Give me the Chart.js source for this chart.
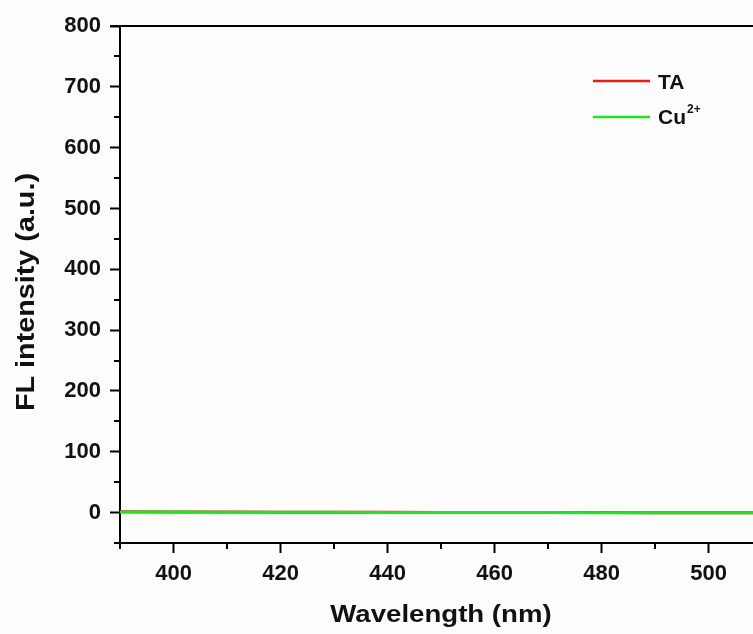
<!DOCTYPE html>
<html>
<head>
<meta charset="utf-8">
<script src="https://cdn.jsdelivr.net/npm/chart.js@4/dist/chart.umd.min.js"></script>
<style>
html,body{margin:0;padding:0;background:#fdfdfd;overflow:hidden;}
#wrap{width:753px;height:634px;position:relative;}
</style>
</head>
<body>
<div id="wrap"><canvas id="c" width="753" height="634"></canvas></div>
<script>
// ---- data ----
const wavelengths = [390, 400, 410, 420, 430, 440, 450, 460, 470, 480, 490, 500, 510];
const taValues    = [1.2, 1.0, 0.9, 0.7, 0.6, 0.4, 0.3, 0.2, 0.1, 0.0, -0.1, -0.2, -0.3];
const cuValues    = [0.9, 0.8, 0.6, 0.5, 0.4, 0.3, 0.2, 0.1, 0.0, -0.1, -0.2, -0.3, -0.4];
const seriesNames = ["TA", "Cu"];
const seriesSup   = ["", "2+"];
const xTitle = "Wavelength (nm)";
const yTitle = "FL intensity (a.u.)";
const xMajorTicks = [400, 420, 440, 460, 480, 500];
const xMinorTicks = [390, 410, 430, 450, 470, 490];
const yMajorTicks = [0, 100, 200, 300, 400, 500, 600, 700, 800];
const yMinorTicks = [-50, 50, 150, 250, 350, 450, 550, 650, 750];

const FONT = "'Liberation Sans', Arial, sans-serif";

const decor = {
  id: 'decor',
  afterDraw(chart) {
    const ctx = chart.ctx;
    const a = chart.chartArea;
    const xs = chart.scales.x, ys = chart.scales.y;
    ctx.save();
    ctx.strokeStyle = '#000';
    ctx.lineWidth = 2;
    ctx.beginPath();
    ctx.moveTo(a.left - 10, a.top);
    ctx.lineTo(a.right, a.top);
    ctx.stroke();
    ctx.beginPath();
    xMinorTicks.forEach(v => {
      const px = Math.round(xs.getPixelForValue(v));
      ctx.moveTo(px, a.bottom);
      ctx.lineTo(px, a.bottom + 6);
    });
    yMinorTicks.forEach(v => {
      const py = Math.round(ys.getPixelForValue(v));
      ctx.moveTo(a.left, py);
      ctx.lineTo(a.left - 6, py);
    });
    ctx.stroke();

    ctx.fillStyle = '#111';
    ctx.textAlign = 'center';
    ctx.textBaseline = 'alphabetic';
    ctx.save();
    ctx.font = 'bold 23px ' + FONT;
    ctx.translate(441, 622);
    ctx.scale(1.2, 1);
    ctx.fillText(xTitle, 0, 0);
    ctx.restore();

    ctx.save();
    ctx.font = 'bold 25px ' + FONT;
    ctx.translate(34, 292);
    ctx.rotate(-Math.PI / 2);
    ctx.scale(1.15, 1);
    ctx.fillText(yTitle, 0, 0);
    ctx.restore();

    const legendY = [81, 117];
    const baseY = [88.5, 124];
    chart.data.datasets.forEach((ds, i) => {
      ctx.strokeStyle = ds.borderColor;
      ctx.lineWidth = 2.5;
      ctx.beginPath();
      ctx.moveTo(593, legendY[i]);
      ctx.lineTo(650, legendY[i]);
      ctx.stroke();
      ctx.fillStyle = '#111';
      ctx.textAlign = 'left';
      ctx.font = 'bold 21px ' + FONT;
      ctx.fillText(seriesNames[i], 658, baseY[i]);
      if (seriesSup[i]) {
        const w = ctx.measureText(seriesNames[i]).width;
        ctx.font = 'bold 12px ' + FONT;
        ctx.fillText(seriesSup[i], 658 + w + 1, baseY[i] - 11);
      }
    });
    ctx.restore();
  }
};

new Chart(document.getElementById('c'), {
  type: 'line',
  data: {
    datasets: [
      { label: 'TA', data: wavelengths.map((x, i) => ({x, y: taValues[i]})), order: 1,
        borderColor: 'rgb(235,25,25)', borderWidth: 3, pointRadius: 0, tension: 0 },
      { label: 'Cu2+', data: wavelengths.map((x, i) => ({x, y: cuValues[i]})), order: 0,
        borderColor: 'rgb(30,230,30)', borderWidth: 3, pointRadius: 0, tension: 0 }
    ]
  },
  options: {
    responsive: false,
    animation: false,
    layout: { padding: { top: 26, right: 0, left: 0, bottom: 0 } },
    plugins: { legend: { display: false }, tooltip: { enabled: false } },
    scales: {
      x: {
        type: 'linear', min: 390, max: 508.3,
        afterBuildTicks: s => { s.ticks = xMajorTicks.map(v => ({value: v})); },
        afterFit: s => { s.height = 91; },
        grid: { drawOnChartArea: false, drawTicks: true, tickLength: 10, tickColor: '#000', tickWidth: 2 },
        border: { display: true, color: '#000', width: 2 },
        ticks: { color: '#111', font: { family: FONT, size: 22, weight: 'bold' }, padding: 8, maxRotation: 0, autoSkip: false }
      },
      y: {
        type: 'linear', min: -50, max: 800,
        afterBuildTicks: s => { s.ticks = yMajorTicks.map(v => ({value: v})); },
        afterFit: s => { s.width = 120; },
        grid: { drawOnChartArea: false, drawTicks: true, tickLength: 10, tickColor: '#000', tickWidth: 2 },
        border: { display: true, color: '#000', width: 2 },
        ticks: { color: '#111', font: { family: FONT, size: 22, weight: 'bold' }, padding: 9, autoSkip: false }
      }
    }
  },
  plugins: [decor]
});
</script>
</body>
</html>
